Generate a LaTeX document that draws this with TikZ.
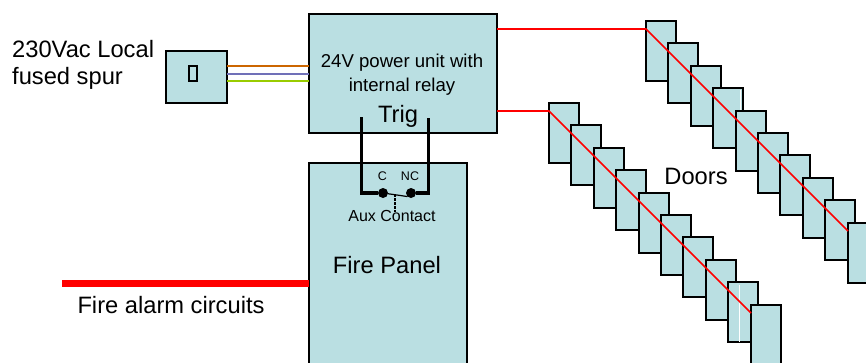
\documentclass[tikz,border=0pt]{standalone}
\usepackage{fontspec}
\setmainfont{Liberation Sans}
\definecolor{boxfill}{HTML}{BADFE2}
\definecolor{wireorange}{HTML}{CC6600}
\definecolor{wireblue}{HTML}{333399}
\definecolor{wiregreen}{HTML}{99CC00}
\tikzset{
  x=1pt,y=-1pt,
  unit/.style={draw=black,line width=2pt,fill=boxfill,minimum width=#1,inner sep=0pt,outer sep=0pt,anchor=north west},
  doorbox/.style={draw=black,line width=2pt,fill=boxfill,minimum width=30pt,minimum height=60pt,inner sep=0pt,outer sep=0pt,anchor=north west},
  redwire/.style={draw=red,line width=1.7pt},
  loop/.style={draw=black,line width=3.6pt,line cap=butt,line join=miter},
  lbl/.style={inner sep=0pt,text=black,align=center,font=#1},
  contact/.style={circle,fill=black,minimum size=10pt,inner sep=0pt,outer sep=0pt},
  hair/.style={draw=white,line width=0.7pt}
}
\begin{document}
\begin{tikzpicture}
\useasboundingbox (0,0) rectangle (866,362);
\begin{scope}
\clip (0,0) rectangle (866,362);
% units
\node[unit=61pt,minimum height=52pt] (spur) at (166,51) {};
\node[unit=188pt,minimum height=119pt] (psu) at (309,14) {};
\node[unit=158pt,minimum height=210pt] (panel) at (309,163) {};
\node[draw=black,line width=2pt,minimum width=8pt,minimum height=15pt,inner sep=0pt,outer sep=0pt] (fuse) at (193,73.5) {};
% mains wires
\draw[wireorange,line width=1.8pt] (spur.east |- 0,66) coordinate (sa) -- (sa -| psu.west);
\draw[wireblue!70,line width=2pt] (spur.east |- 0,73.5) coordinate (sb) -- (sb -| psu.west);
\draw[wiregreen,line width=1.8pt] (spur.east |- 0,81) coordinate (sc) -- (sc -| psu.west);
% doors
\foreach \i in {0,...,9} {
  \node[doorbox] (u\i) at ({646+round(22.4*\i)},{21+round(22.4*\i)}) {};
  \ifnum\i=3 \draw[hair] (740,90) -- (740,110); \fi
}
\foreach \i in {0,...,9} {
  \node[doorbox] (l\i) at ({549+round(22.4*\i)},{103+round(22.4*\i)}) {};
  \ifnum\i=8 \draw[hair] (739.7,285) -- (739.7,342); \fi
}
\end{scope}
% red feeds
\coordinate (ua) at (psu.east |- 0,29);
\coordinate (ub) at (u0.west |- 0,29);
\coordinate (uc) at (u9.west |- 0,231);
\coordinate (la) at (psu.east |- 0,111);
\coordinate (lb) at (l0.west |- 0,111);
\coordinate (lc) at (l9.west |- 0,313);
\draw[redwire] (ua) -- (ub) -- (uc);
\draw[redwire] (la) -- (lb) -- (lc);
% fire alarm circuit
\coordinate (fa) at (62,283);
\draw[red,line width=7pt] (fa) -- (fa -| panel.west);
% labels
\node[lbl={\fontsize{18.6}{24}\selectfont}] (t24) at (402,74.5) {24V power unit with\\internal relay};
\node[lbl={\fontsize{23.7}{26}\selectfont}] (ttrig) at (398,116) {Trig};
\node[lbl={\fontsize{12.5}{14}\selectfont}] (tc) at (382.5,176) {C};
\node[lbl={\fontsize{12.5}{14}\selectfont}] (tnc) at (410,176) {NC};
\node[lbl={\fontsize{16}{18}\selectfont}] (taux) at (392,216) {Aux Contact};
\node[lbl={\fontsize{23.7}{27}\selectfont}] (tfp) at (387,265) {Fire Panel};
\node[lbl={\fontsize{23.7}{27}\selectfont}] (tfa) at (171,305) {Fire alarm circuits};
\node[lbl={\fontsize{23.7}{27}\selectfont}] (tdoors) at (696,176) {Doors};
\node[lbl={\fontsize{23.7}{27.5}\selectfont},align=left,anchor=north west] (tsp) at (12,40) {230Vac Local\\fused spur};
% aux contact
\node[contact] (cc) at (383,193) {};
\node[contact] (cn) at (411,193) {};
\coordinate (tl) at (361.5,117);
\coordinate (tr) at (428.5,118);
\draw[loop] (tl) |- (cc);
\draw[loop] (tr) |- (cn);
\draw[black,line width=1.2pt] (cc) -- (cn.south west);
\coordinate (dt) at (395,194);
\coordinate (db) at (395,212);
\draw[black,line width=1.2pt,dash pattern=on 2.5pt off 1.5pt] (dt) -- (db);
\end{tikzpicture}
\end{document}
